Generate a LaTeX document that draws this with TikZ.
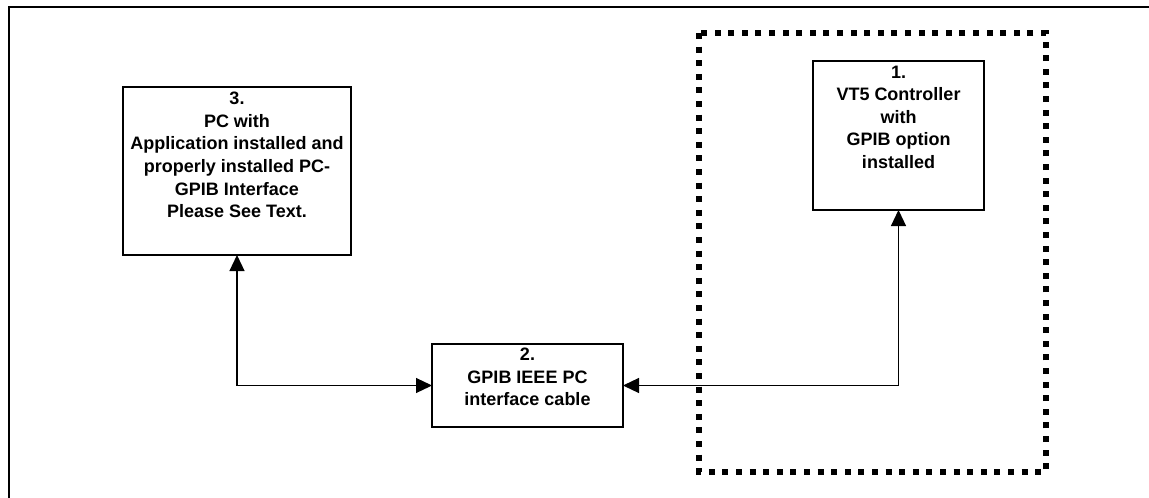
\documentclass[tikz,border=0pt]{standalone}
\usepackage{fontspec}
\setmainfont{Liberation Sans}
\usetikzlibrary{arrows.meta}
\begin{document}
\begin{tikzpicture}[x=1pt,y=-1pt,
  box/.style={draw=black,line width=1.5pt,inner sep=0pt,outer sep=0pt,rectangle},
  txt/.style={anchor=north,inner sep=0pt,align=center,font=\fontsize{18}{22.6}\selectfont\bfseries},
  conn/.style={line width=1.2pt,{Triangle[length=16pt,width=15pt]}-{Triangle[length=16pt,width=15pt]}},
  frame/.style={line width=2pt},
  group/.style={line width=6pt,dash pattern=on 6pt off 7.6pt}]
\useasboundingbox (0,0) rectangle (1149,498);
% outer frame
\draw[frame] (9,498) -- (9,7) -- (1149,7);
% dashed group
\draw[group] (699,33) rectangle (1046,472);
% boxes
\node[box,minimum width=228pt,minimum height=168pt] (pc) at (237,171) {};
\node[box,minimum width=171pt,minimum height=149pt] (vt) at (898.5,135.5) {};
\node[box,minimum width=191pt,minimum height=83pt] (cable) at (527.5,385.5) {};
% texts
\node[txt] (pctxt) at ([yshift=-5pt]pc.north) {3.\\PC with\\Application installed and\\properly installed PC-\\GPIB Interface\\Please See Text.};
\node[txt] (vttxt) at ([yshift=-4.5pt]vt.north) {1.\\VT5 Controller\\with\\GPIB option\\installed};
\node[txt] (cabletxt) at ([yshift=-4pt]cable.north) {2.\\GPIB IEEE PC\\interface cable};
% connectors
\draw[conn] (pc.south) |- (cable.west);
\draw[conn] (cable.east) -| (vt.south);
\end{tikzpicture}
\end{document}
